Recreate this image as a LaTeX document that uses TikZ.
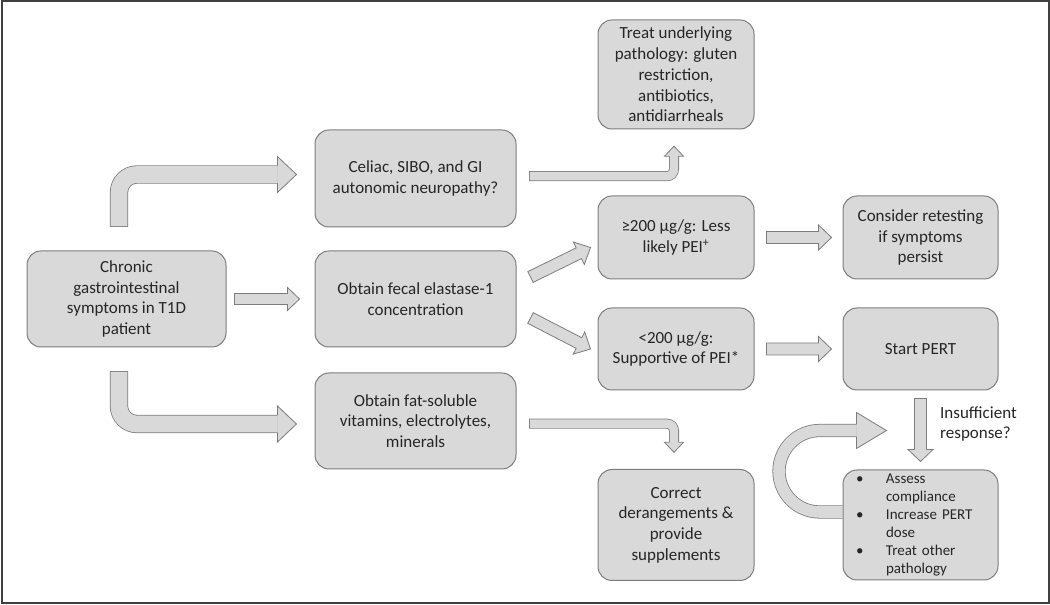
\documentclass[tikz,border=0pt]{standalone}
\usepackage{fontspec}
\setmainfont{Carlito}
\usetikzlibrary{calc}

\definecolor{boxfill}{RGB}{217,217,217}
\definecolor{boxline}{RGB}{125,125,125}
\definecolor{textcol}{RGB}{38,38,38}
\definecolor{framecol}{RGB}{64,64,64}

% straight block arrow: tail, tip, half shaft, half head, head length
\newcommand{\fatarrow}[5]{%
  \draw[arrowshape] let \p1=(#1), \p2=(#2), \n1={atan2(\y2-\y1,\x2-\x1)} in
    ($(\p1)+(\n1+90:#3)$) -- ($(\p2)+(\n1:-#5)+(\n1+90:#3)$) -- ($(\p2)+(\n1:-#5)+(\n1+90:#4)$) -- (\p2)
    -- ($(\p2)+(\n1:-#5)+(\n1-90:#4)$) -- ($(\p2)+(\n1:-#5)+(\n1-90:#3)$) -- ($(\p1)+(\n1-90:#3)$) -- cycle;}

% open head: tip, angle, half shaft, half head, head length
\newcommand{\arrowhead}[5]{%
  \draw[arrowshape] ($(#1)+(#2:-#5)+(#2+90:#3)$) -- ($(#1)+(#2:-#5)+(#2+90:#4)$) -- (#1)
    -- ($(#1)+(#2:-#5)+(#2-90:#4)$) -- ($(#1)+(#2:-#5)+(#2-90:#3)$);}

% bent block arrow: tail, |- or -|, tip, angle, half shaft, half head, head length, radius
\newcommand{\bentarrow}[8]{%
  \draw[boxline, line width={2*#5+0.8}, rounded corners=#8, shorten <=-0.4pt] (#1) #2 ($(#3)+(#4:-#7)$);
  \draw[boxfill, line width={2*#5-0.8}, rounded corners=#8, shorten <=0.4pt] (#1) #2 ($(#3)+(#4:-#7)$);
  \arrowhead{#3}{#4}{#5}{#6}{#7}}

\begin{document}
\begin{tikzpicture}[x=1pt, y=1pt,
    box/.style={draw=boxline, fill=boxfill, line width=1pt, rounded corners=14pt, align=center, inner sep=2pt, text=textcol, font=\fontsize{17}{20.7}\selectfont},
    note/.style={align=left, inner sep=2pt, text=textcol, font=\fontsize{17}{20.7}\selectfont},
    arrowshape/.style={draw=boxline, fill=boxfill, line width=0.8pt}
]
    \useasboundingbox (0,0) rectangle (1050,605);
    % frame
    \draw[framecol, line width=2pt] (1.5,1.5) rectangle (1048.5,603.5);

    % first column
    \node[box, minimum width=199pt, minimum height=96pt] (chronic) at (126.5,306) {Chronic\\gastrointestinal\\symptoms in T1D\\patient};

    % tests
    \node[box, minimum width=201pt, minimum height=97pt] (celiac) at (415.5,426.5) {Celiac, SIBO, and GI\\autonomic neuropathy?};
    \node[box, minimum width=201pt, minimum height=96pt] (fecal) at (415.5,306) {Obtain fecal elastase-1\\concentration};
    \node[box, minimum width=201pt, minimum height=96pt] (vitamins) at (415.5,184) {Obtain fat-soluble\\vitamins, electrolytes,\\minerals};

    % results
    \node[box, minimum width=156pt, minimum height=109pt] (treat) at (676,530.5) {Treat underlying\\pathology: gluten\\restriction,\\antibiotics,\\antidiarrheals};
    \node[box, minimum width=156pt, minimum height=83pt] (high) at (676,367.5) {≥200 µg/g: Less\\likely PEI\textsuperscript{+}};
    \node[box, minimum width=156pt, minimum height=82pt] (low) at (676,256) {<200 µg/g:\\Supportive of PEI*};
    \node[box, minimum width=156pt, minimum height=111pt] (correct) at (676,80) {Correct\\derangements \&\\provide\\supplements};

    % management
    \node[box, minimum width=155pt, minimum height=83pt] (retest) at (920.5,367.5) {Consider retesting\\if symptoms\\persist};
    \node[box, minimum width=155pt, minimum height=82pt] (pert) at (920.5,256) {Start PERT};
    \node[box, minimum width=155pt, minimum height=110pt, align=left, text width=129pt, inner xsep=13pt, font=\fontsize{15}{18}\selectfont] (assess) at (920.5,80)
        {\makebox[30pt][l]{\textbullet}Assess\\\hspace*{30pt}compliance\\\makebox[30pt][l]{\textbullet}Increase PERT\\\hspace*{30pt}dose\\\makebox[30pt][l]{\textbullet}Treat other\\\hspace*{30pt}pathology};
    \node[note, anchor=west] (query) at (938,181) {Insufficient\\response?};

    % arrow ends
    \coordinate (up tail) at ($(chronic.north)+(-7.5,24)$);
    \coordinate (up tip) at ($(celiac.west)+(-18,4)$);
    \coordinate (down tail) at ($(chronic.south)+(-7.5,-24)$);
    \coordinate (down tip) at ($(vitamins.west)+(-18,-3)$);
    \coordinate (treat tail) at ($(celiac.east)+(13,2.3)$);
    \coordinate (treat tip) at ($(treat.south)+(-2,-16.7)$);
    \coordinate (correct tail) at ($(vitamins.east)+(13,-2.7)$);
    \coordinate (correct tip) at ($(correct.north)+(-2,16.7)$);
    \coordinate (loop tail) at ($(assess.west)+(0,13)$);
    \coordinate (loop tip) at ($(assess.west)+(44,94.5)$);

    % straight arrows
    \fatarrow{$(chronic.east)+(8,0)$}{$(fecal.west)+(-15,0)$}{5.5}{11.5}{12}
    \fatarrow{$(fecal.east)+(14,22)$}{$(high.west)+(-7,-10)$}{6}{12.5}{13}
    \fatarrow{$(fecal.east)+(14,-19)$}{$(low.west)+(-7,0)$}{6}{12.5}{13}
    \fatarrow{$(high.east)+(12,0)$}{$(retest.west)+(-11,0)$}{6}{12.5}{13}
    \fatarrow{$(low.east)+(12,0)$}{$(pert.west)+(-11,0)$}{6}{12.5}{13}
    \fatarrow{$(pert.south)+(0,-8)$}{$(assess.north)+(0,8)$}{6}{12.5}{12}

    % bent arrows
    \bentarrow{up tail}{|-}{up tip}{0}{8.75}{18}{19}{18pt}
    \bentarrow{down tail}{|-}{down tip}{0}{8.75}{18}{19}{18pt}
    \bentarrow{treat tail}{-|}{treat tip}{90}{4.6}{9.5}{10}{7pt}
    \bentarrow{correct tail}{-|}{correct tip}{-90}{4.6}{9.5}{10}{7pt}

    % loop back
    \draw[boxline, line width=13.2pt] (loop tail) -- ++(-22.75,0) arc[start angle=270, end angle=90, radius=40.75] -- ($(loop tip)+(-30,0)$);
    \draw[boxfill, line width=11.6pt] (loop tail) -- ++(-22.75,0) arc[start angle=270, end angle=90, radius=40.75] -- ($(loop tip)+(-30,0)$);
    \arrowhead{loop tip}{0}{6.2}{18}{30}
\end{tikzpicture}
\end{document}
